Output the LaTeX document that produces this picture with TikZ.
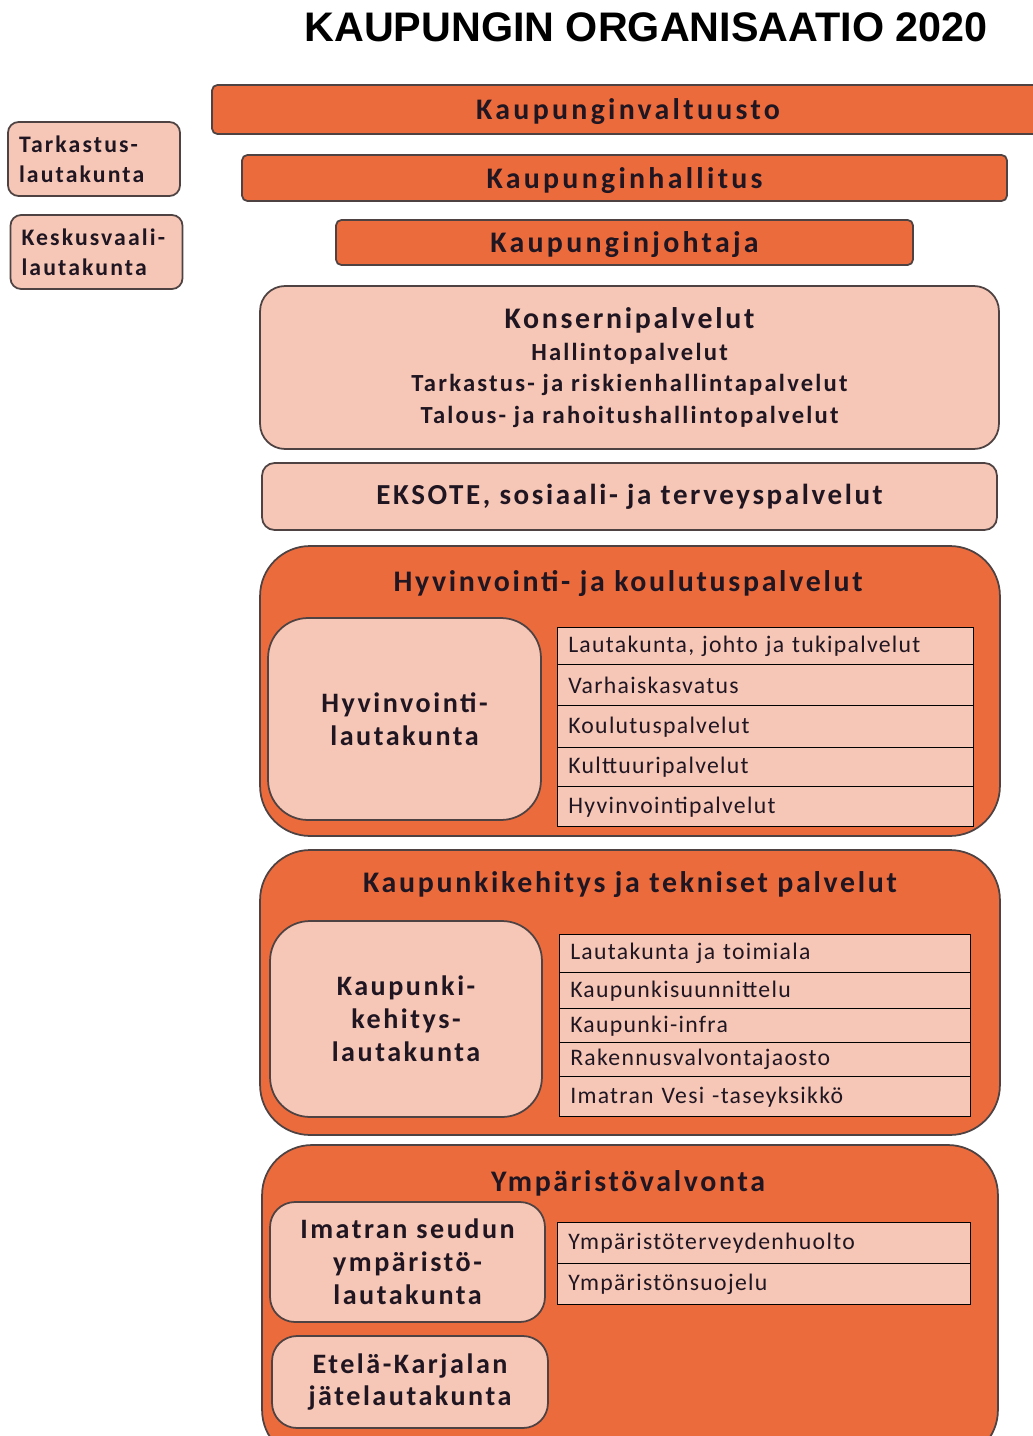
\documentclass[tikz,border=0pt]{standalone}
\usepackage{fontspec}
\setmainfont{Carlito}[LetterSpace=9]
\newfontfamily\barfont{Carlito}[LetterSpace=11]
\newfontfamily\rowfont{Carlito}[LetterSpace=5.5]
\newfontfamily\headfont{Liberation Sans}
\usetikzlibrary{positioning}
\definecolor{OrgOrange}{RGB}{236,107,61}
\definecolor{OrgPale}{RGB}{246,198,182}
\definecolor{OrgLine}{RGB}{78,66,66}
\definecolor{OrgText}{RGB}{32,22,34}

\begin{document}
\begin{tikzpicture}[
  x=0.02cm, y=-0.02cm,
  bar/.style={draw=OrgLine, line width=1pt, rounded corners=3pt, fill=OrgOrange,
    text=OrgText, font=\barfont\bfseries\fontsize{17}{19}\selectfont,
    text height=14pt, text depth=2.6pt},
  side/.style={draw=OrgLine, line width=1pt, rounded corners=6pt, fill=OrgPale,
    text=OrgText, font=\bfseries\fontsize{13.5}{17}\selectfont, align=left,
    inner xsep=0.22cm, text width=3.0cm, minimum height=1.48cm},
  unit/.style={draw=OrgLine, line width=1pt, fill=OrgPale, text=OrgText, align=center},
  sector/.style={draw=OrgLine, line width=1pt, rounded corners=1cm, fill=OrgOrange},
  board/.style={draw=OrgLine, line width=1pt, fill=OrgPale, text=OrgText, align=center,
    font=\bfseries\fontsize{16}{18.7}\selectfont},
  secttl/.style={text=OrgText, font=\bfseries\fontsize{17}{19}\selectfont},
  row/.style={draw=black, line width=0.8pt, fill=OrgPale, text=OrgText, anchor=north west,
    align=left, inner xsep=6pt, font=\rowfont\fontsize{13.5}{15}\selectfont}
]
\clip (0,0) rectangle (1033,1436);
\fill[white] (0,0) rectangle (1033,1436);

\node[font=\headfont\bfseries\fontsize{23.5}{26}\selectfont] (title) at (646,27) {KAUPUNGIN ORGANISAATIO 2020};

% top level bars
\node[bar, minimum width=16.64cm, minimum height=0.98cm] (valtuusto) at (628,109.5) {Kaupunginvaltuusto};
\node[bar, minimum width=15.3cm, minimum height=0.92cm] (hallitus) at (624.5,178) {Kaupunginhallitus};
\node[bar, minimum width=11.54cm, minimum height=0.9cm] (johtaja) at (624.5,242.5) {Kaupunginjohtaja};

% boards on the left
\node[side] (tarkastus) at (94,159) {Tarkastus-\\lautakunta};
\node[side] (keskusvaali) at (96.5,252) {Keskusvaali-\\lautakunta};

% group services
\node[unit, rounded corners=0.5cm, minimum width=14.78cm, minimum height=3.26cm,
  font=\bfseries\fontsize{14}{18}\selectfont] (konserni) at (629.5,367.5)
  {{\fontsize{17}{19}\selectfont Konsernipalvelut}\\Hallintopalvelut\\Tarkastus- ja riskienhallintapalvelut\\Talous- ja rahoitushallintopalvelut};
\node[unit, rounded corners=0.25cm, minimum width=14.7cm, minimum height=1.34cm,
  font=\bfseries\fontsize{16.5}{18}\selectfont] (eksote) at (629.5,496.5)
  {EKSOTE, sosiaali- ja terveyspalvelut};

% Hyvinvointi- ja koulutuspalvelut
\node[sector, minimum width=14.8cm, minimum height=5.8cm] (hyvsect) at (630,691) {};
\node[secttl] (hyvttl) at (628,584) {Hyvinvointi- ja koulutuspalvelut};
\node[board, rounded corners=0.8cm, minimum width=5.46cm, minimum height=4.04cm] (hyvltk) at (404.5,719)
  {Hyvinvointi-\\lautakunta};
\foreach \i/\top/\h/\txt in {1/627/37/{Lautakunta, johto ja tukipalvelut},2/664/41/Varhaiskasvatus,
    3/705/42/Koulutuspalvelut,4/747/39/Kulttuuripalvelut,5/786/40/Hyvinvointipalvelut}
  \node[row, text width=8.32cm-12pt, minimum height=\h*0.02cm] (hyv\i) at (557,\top) {\txt};

% Kaupunkikehitys ja tekniset palvelut
\node[sector, minimum width=14.8cm, minimum height=5.7cm] (kksect) at (630,992.5) {};
\node[secttl] (kkttl) at (630,885) {Kaupunkikehitys ja tekniset palvelut};
\node[board, rounded corners=0.8cm, minimum width=5.44cm, minimum height=3.92cm] (kkltk) at (406,1019)
  {Kaupunki-\\kehitys-\\lautakunta};
\foreach \i/\top/\h/\txt in {1/934/38/Lautakunta ja toimiala,2/972/36/Kaupunkisuunnittelu,
    3/1008/34/Kaupunki-infra,4/1042/34/Rakennusvalvontajaosto,5/1076/40/Imatran Vesi -taseyksikkö}
  \node[row, text width=8.22cm-12pt, minimum height=\h*0.02cm] (kk\i) at (559,\top) {\txt};

% Ympäristövalvonta
\node[sector, minimum width=14.72cm, minimum height=6.3cm] (ympsect) at (630,1302.5) {};
\node[secttl] (ympttl) at (628,1183) {Ympäristövalvonta};
\node[board, rounded corners=0.5cm, minimum width=5.5cm, minimum height=2.4cm] (ympltk) at (407.5,1262)
  {Imatran seudun\\ympäristö-\\lautakunta};
\node[board, rounded corners=0.5cm, minimum width=5.52cm, minimum height=1.84cm] (jateltk) at (410,1382)
  {Etelä-Karjalan\\jätelautakunta};
\foreach \i/\top/\h/\txt in {1/1222/41/Ympäristöterveydenhuolto,2/1263/41/Ympäristönsuojelu}
  \node[row, text width=8.26cm-12pt, minimum height=\h*0.02cm] (ymp\i) at (557,\top) {\txt};
\end{tikzpicture}
\end{document}
